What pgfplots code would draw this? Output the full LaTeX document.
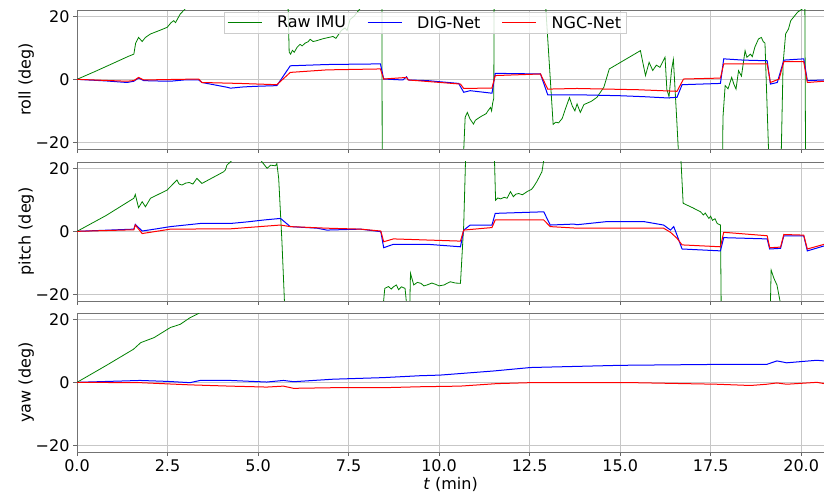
\documentclass[border=0pt]{standalone}
\usepackage{fontspec}
\setmainfont{DejaVu Sans}
\usepackage{pgfplots}
\pgfplotsset{compat=1.18}
\definecolor{mplgreen}{HTML}{008000}
\definecolor{mplblue}{HTML}{0000FF}
\definecolor{mplred}{HTML}{FF0000}
\pgfplotsset{
  panel/.style={
    scale only axis, width=747pt, height=139pt, anchor=south west,
    xmin=0, xmax=20.63, ymin=-22.1, ymax=22,
    xtick={0,2.5,5,7.5,10,12.5,15,17.5,20},
    ytick={-20,0,20}, yticklabels={−20,0,20},
    grid=major, grid style={color=black!22, line width=0.7pt},
    axis line style={black!55, line width=0.8pt},
    tick style={black!60, line width=0.8pt},
    tick align=outside, major tick length=4pt,
    xtick pos=bottom, ytick pos=left,
    ticklabel style={font=\fontsize{16}{19}\selectfont},
    label style={font=\fontsize{16}{19}\selectfont},
    ylabel style={at={(axis description cs:-0.068,0.5)},anchor=center},
  },
}
\begin{document}
\begin{tikzpicture}
% ---------------- roll ----------------
\begin{axis}[panel, at={(77pt,346pt)}, xticklabels={}, ylabel={roll (deg)},
  legend columns=3,
  legend style={at={(0.466,0.986)}, anchor=north, font=\fontsize{16}{19}\selectfont,
    draw=black!20, fill=white, fill opacity=0.8, text opacity=1,
    /tikz/every odd column/.append style={column sep=13pt},
    /tikz/every even column/.append style={column sep=19pt}},
  legend image post style={xscale=2}]
\addplot[color=mplgreen, line width=0.8pt] coordinates {
(0,0) (0.5,2.5) (1.0,5.1) (1.4,7.2) (1.57,8.0) (1.62,11.5) (1.70,13.3) (1.80,12.0) (1.89,13.3)
(2.03,14.4) (2.3,15.6) (2.49,16.5) (2.6,18.0) (2.67,18.6) (2.72,18.0) (2.85,20.7) (3.0,22.5)
(3.2,26) (5.5,30) (5.83,22.5) (5.86,8.6) (5.9,8.0) (5.95,9.2) (6.0,8.6) (6.08,10.2) (6.16,11.1)
(6.22,10.6) (6.3,11.5) (6.38,11.9) (6.44,12.7) (6.52,12.0) (6.6,12.2) (6.8,12.9) (7.07,13.6)
(7.15,13.0) (7.3,15.5) (7.4,16.3) (7.46,15.5) (7.54,19.0) (7.65,20.0) (7.8,22.2) (8.0,25)
(8.42,26) (8.43,-30)
(9.5,-40) (10.67,-30) (10.68,-22.5) (10.72,-12) (10.78,-10.5) (10.85,-12.5) (10.95,-14.2)
(11.0,-13) (11.1,-12.2) (11.2,-11.5) (11.3,-10.9) (11.35,-10) (11.42,-8.9) (11.45,-10)
(11.48,-7.5) (11.51,-6)
(11.52,25) (12.2,35) (12.94,25) (12.95,22) (13.15,-14.3) (13.22,-13.6) (13.3,-13.8) (13.4,-12.4)
(13.5,-9.0) (13.6,-5.8) (13.68,-8.5) (13.75,-10.0) (13.81,-7.8) (13.9,-10.5) (14.0,-8)
(14.2,-7.0) (14.36,-5.7) (14.55,-2.5) (14.7,3.3) (15.56,9.1) (15.7,1.2) (15.8,5.4) (15.9,2.8)
(16.0,4.5) (16.1,3.8) (16.24,7.0) (16.29,-3.2)
(16.35,-5.5) (16.42,3) (16.47,6.3) (16.55,-10) (16.61,-23) (17.0,-40) (17.83,-23) (17.84,-12)
(17.9,-2.0) (17.98,-3) (18.03,-1.2) (18.08,0.6) (18.14,-1.5) (18.2,-3.1) (18.27,2.75) (18.35,1)
(18.45,9.1) (18.5,7) (18.6,8) (18.65,7.2) (18.72,10.2) (18.82,12.8) (18.9,13.3) (18.95,12.0)
(19.0,11.5) (19.1,-23) (19.2,-40) (19.45,-23)
(19.5,5) (19.57,14.4) (19.65,16) (19.71,18.6) (19.9,21.3) (20.05,22.5) (20.1,26) (20.12,-23)
(20.64,-40)};
\addlegendentry{Raw IMU}
\addplot[color=mplblue, line width=1pt] coordinates {
(0,0) (0.8,-0.5) (1.38,-1.0) (1.57,-0.6) (1.70,0.4) (1.84,-0.4) (2.1,-0.5) (2.58,-0.6)
(2.95,-0.2) (3.36,-0.2) (3.45,-1.0) (4.14,-2.5) (4.24,-2.8) (4.6,-2.4) (4.97,-2.2) (5.52,-2.0)
(5.89,4.3) (6.4,4.5) (6.9,4.7) (7.6,4.8) (8.38,4.9) (8.47,0.1) (9.0,-0.2) (9.10,0.8) (9.15,-0.2)
(9.67,-0.4) (10.54,-1.3) (10.68,-4.1) (10.86,-3.6) (11.46,-4.4) (11.55,1.9) (12.2,1.8)
(12.8,1.7) (13.0,-4.9) (13.81,-4.9) (15.0,-5.2) (15.65,-5.5) (16.3,-5.9) (16.57,-5.7)
(16.71,-1.7) (17.77,-1.3) (17.86,6.5) (18.4,6.1) (19.06,5.9) (19.15,-1.5) (19.34,-1.0)
(19.52,6.1) (20.07,6.5) (20.17,-0.4) (20.64,-0.2)};
\addlegendentry{DIG-Net}
\addplot[color=mplred, line width=1pt] coordinates {
(0,0) (1.38,-0.6) (1.57,-0.4) (1.70,0.6) (1.84,-0.2) (3.36,0.1) (3.45,-1.0) (4.5,-1.3)
(5.52,-1.7) (5.89,2.2) (6.9,3.0) (8.38,3.3) (8.47,0.1) (9.10,0.6) (9.15,-0.2) (10.59,-1.5)
(10.68,-2.9) (11.46,-2.75) (11.55,1.2) (12.8,1.7) (13.0,-3.1) (13.81,-2.9) (15.5,-3.3)
(16.57,-3.8) (16.75,0.1) (17.77,0.4) (17.86,4.9) (19.06,4.9) (19.15,-1.0) (19.39,0.1)
(19.52,5.6) (20.07,5.6) (20.17,-1.0) (20.64,-0.6)};
\addlegendentry{NGC-Net}
\end{axis}
% ---------------- pitch ----------------
\begin{axis}[panel, at={(77pt,194pt)}, xticklabels={}, ylabel={pitch (deg)}]
\addplot[color=mplgreen, line width=0.8pt] coordinates {
(0,0) (0.8,5) (1.57,10.5) (1.61,11.7) (1.70,7.5) (1.80,9.4) (1.89,7.8) (2.03,10.5) (2.49,13.1)
(2.76,16.3) (2.82,15.0) (2.9,14.7) (3.0,15.3) (3.1,15.5) (3.2,15.0) (3.31,16.8) (3.45,15.2)
(4.05,18.9) (4.1,19.5) (4.14,21) (4.28,22.5)
(4.6,30) (5.0,24) (5.11,22) (5.25,20) (5.35,21) (5.48,20.8) (5.52,21.5) (5.57,16.8) (5.66,-3.3)
(5.73,-22.5) (6.5,-40) (8.46,-23) (8.5,-18.1) (8.6,-17.5) (8.68,-18.3) (8.74,-17.6) (8.82,-17.0)
(8.88,-18.5) (8.96,-17.6) (9.06,-18.1) (9.11,-24) (9.19,-24) (9.21,-13.3) (9.3,-17.0)
(9.4,-16.2) (9.5,-16.5) (9.58,-17.3) (9.67,-17.0) (9.8,-16.4) (9.9,-16.8) (10.0,-17.3)
(10.14,-17.0) (10.22,-16.5) (10.31,-16.0) (10.45,-16.4) (10.59,-16.5) (10.68,2) (10.73,22.5)
(11.1,40)
(11.53,22.5) (11.56,9.9) (11.62,10.6) (11.7,10.3) (11.8,10.8) (11.88,10.5) (11.97,12.6)
(12.05,11) (12.12,11.8) (12.2,12) (12.3,11.6) (12.43,12.6) (12.55,13.3) (12.6,14) (12.7,15.8)
(12.84,18.9) (12.89,22.5) (13.2,35) (16.68,22.5)
(16.74,8.9) (17.0,7.5) (17.22,6.2) (17.3,5.2) (17.35,5.8) (17.45,4.1) (17.5,4.8) (17.55,3.5)
(17.62,4.0) (17.68,2.5) (17.77,2.0)
(17.79,-23) (18.5,-40) (19.15,-23) (19.17,-12.3) (19.25,-15) (19.33,-17.0) (19.43,-23)
(20.64,-40)};
\addplot[color=mplblue, line width=1pt] coordinates {
(0,0) (1.57,0.7) (1.61,2.2) (1.80,0.1) (2.2,0.8) (2.58,1.5) (3.41,2.5) (4.24,2.5) (4.7,3.0)
(5.16,3.6) (5.62,4.1) (5.89,1.5) (6.63,1.0) (6.9,0.4) (7.83,0.7) (8.39,-0.1) (8.47,-5.2)
(8.74,-4.1) (9.67,-4.1) (10.59,-4.9) (10.68,0.4) (10.86,2.0) (11.46,2.0) (11.55,5.7)
(12.89,6.2) (13.07,2.0) (13.72,2.3) (13.81,2.1) (14.64,3.1) (15.65,3.1) (16.2,2.0) (16.39,0.4)
(16.48,1.5) (16.57,-1.2) (16.71,-5.6) (17.77,-6.2) (17.86,-2.0) (19.06,-2.4) (19.13,-5.6)
(19.43,-5.4) (19.52,-1.4) (20.07,-1.4) (20.17,-6.2) (20.64,-4.6)};
\addplot[color=mplred, line width=1pt] coordinates {
(0,0) (1.57,0.5) (1.61,2.0) (1.80,-0.7) (2.58,0.7) (4.24,0.8) (5.62,2.0) (5.89,1.5) (6.9,1.0)
(7.83,0.7) (8.39,0.1) (8.47,-3.3) (8.74,-2.4) (10.59,-3.1) (10.68,0.4) (11.46,1.2) (11.55,3.6)
(12.89,3.6) (13.07,1.5) (13.81,1.0) (16.2,1.0) (16.39,-0.3) (16.57,-2.2) (16.71,-4.3)
(17.77,-4.9) (17.86,-0.3) (19.06,-1.4) (19.13,-5.2) (19.43,-5.0) (19.52,-1.0) (20.07,-1.2)
(20.17,-5.6) (20.64,-4.1)};
\end{axis}
% ---------------- yaw ----------------
\begin{axis}[panel, at={(77pt,43pt)},
  xticklabels={0.0,2.5,5.0,7.5,10.0,12.5,15.0,17.5,20.0},
  ylabel={yaw (deg)}, xlabel={\textit{t} (min)},
  xlabel style={at={(axis description cs:0.5,-0.235)},anchor=center}]
\addplot[color=mplgreen, line width=0.8pt] coordinates {
(0,0) (0.8,5.3) (1.56,10.5) (1.76,12.6) (2.13,14.2) (2.58,17.4) (2.85,18.4) (3.12,20.5)
(3.35,21.8) (3.6,24)};
\addplot[color=mplblue, line width=1pt] coordinates {
(0,0) (1.74,0.6) (2.5,0.3) (3.12,-0.1) (3.4,0.6) (4.23,0.6) (5.24,0.1) (5.7,0.6) (5.98,0.2)
(7.08,1.0) (8.46,1.5) (9.47,2.1) (10.03,2.3) (11.5,3.6) (12.52,4.7) (15.0,5.4) (17.76,5.7)
(19.05,5.7) (19.33,6.8) (19.6,6.2) (20.43,7.0) (20.64,6.8)};
\addplot[color=mplred, line width=1pt] coordinates {
(0,0) (1.74,-0.1) (3.12,-0.8) (4.23,-1.2) (5.24,-1.5) (5.7,-1.2) (5.98,-1.9) (7.08,-1.7)
(8.46,-1.7) (9.47,-1.4) (10.58,-1.2) (11.6,-0.4) (12.52,-0.1) (15.37,-0.1) (17.67,-0.6)
(18.6,-1.0) (19.05,-0.6) (19.33,-0.2) (19.6,-0.6) (20.43,0) (20.64,-0.4)};
\end{axis}
\pgfresetboundingbox
\useasboundingbox (0,0) rectangle (824pt,495pt);
\end{tikzpicture}
\end{document}
